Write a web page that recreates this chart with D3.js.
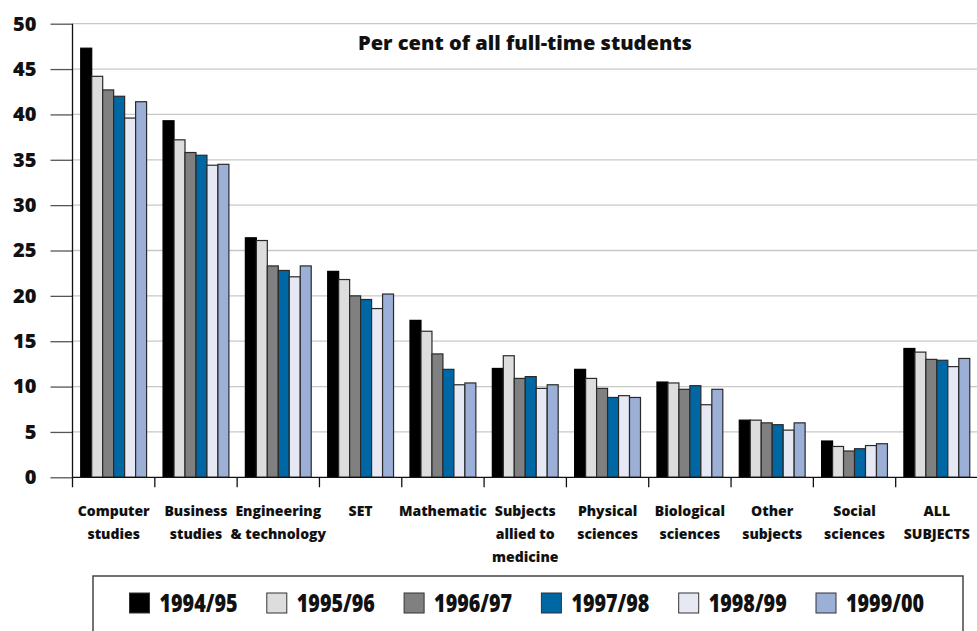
<!DOCTYPE html>
<html>
<head>
<meta charset="utf-8">
<script src="https://cdn.jsdelivr.net/npm/d3@7"></script>
<style>
  html, body { margin: 0; padding: 0; background: #fff; }
  svg { display: block; }
  text { font-family: "Open Sans", "Noto Sans", sans-serif; font-weight: 800; fill: #111; }
</style>
</head>
<body>
<svg id="chart" width="977" height="631"></svg>
<script>
const categories = [
  ["Computer", "studies"],
  ["Business", "studies"],
  ["Engineering", "& technology"],
  ["SET"],
  ["Mathematic"],
  ["Subjects", "allied to", "medicine"],
  ["Physical", "sciences"],
  ["Biological", "sciences"],
  ["Other", "subjects"],
  ["Social", "sciences"],
  ["ALL", "SUBJECTS"]
];
const seriesNames = ["1994/95", "1995/96", "1996/97", "1997/98", "1998/99", "1999/00"];
const seriesColors = ["#000000", "#dddddd", "#808080", "#0067a5", "#e6e9f3", "#9bafd7"];
const v1994 = [47.3, 39.3, 26.4, 22.7, 17.3, 12.0, 11.9, 10.5, 6.3, 4.0, 14.2];
const v1995 = [44.2, 37.2, 26.1, 21.8, 16.1, 13.4, 10.9, 10.4, 6.3, 3.4, 13.8];
const v1996 = [42.7, 35.8, 23.3, 20.0, 13.6, 10.9, 9.8, 9.7, 6.0, 2.9, 13.0];
const v1997 = [42.0, 35.5, 22.8, 19.6, 11.9, 11.1, 8.8, 10.1, 5.8, 3.15, 12.9];
const v1998 = [39.6, 34.4, 22.1, 18.6, 10.2, 9.8, 9.0, 8.0, 5.2, 3.5, 12.2];
const v1999 = [41.4, 34.5, 23.3, 20.2, 10.4, 10.2, 8.8, 9.7, 6.0, 3.7, 13.1];
const seriesValues = [v1994, v1995, v1996, v1997, v1998, v1999];
const yTicks = [0, 5, 10, 15, 20, 25, 30, 35, 40, 45, 50];
const title = "Per cent of all full-time students";

const svg = d3.select("#chart");
const mLeft = 72.5, mRight = 978, mTop = 23.7, mBottom = 477.3;

const x = d3.scaleBand().domain(d3.range(categories.length)).range([mLeft, mRight]).padding(0);
const bw = x.bandwidth();
const xs = d3.scaleBand().domain(d3.range(seriesNames.length)).range([bw * 0.1, bw * 0.9]).padding(0);
const y = d3.scaleLinear().domain([0, 50]).range([mBottom, mTop]);

// gridlines
svg.append("g").selectAll("line").data(yTicks.filter(d => d > 0)).join("line")
  .attr("x1", mLeft).attr("x2", 977).attr("y1", d => y(d)).attr("y2", d => y(d))
  .attr("stroke", "#c8c8c8").attr("stroke-width", 1.3);

// y axis
const yAxis = d3.axisLeft(y).tickValues(yTicks).tickSize(22).tickPadding(14).tickFormat(d3.format("d"));
const gy = svg.append("g").attr("transform", `translate(${mLeft},0)`).call(yAxis);
gy.select(".domain").remove();
gy.selectAll(".tick line").attr("stroke", "#555").attr("stroke-width", 1.3);
gy.selectAll(".tick text").style("font-family", "'Open Sans', sans-serif").style("font-weight", "800")
  .style("font-size", "20px").attr("fill", "#111");
svg.append("line").attr("x1", mLeft).attr("x2", mLeft).attr("y1", mTop).attr("y2", mBottom)
  .attr("stroke", "#111").attr("stroke-width", 1.3);

// bars
const groups = svg.append("g").selectAll("g").data(categories.map((c, i) => i)).join("g")
  .attr("transform", i => `translate(${x(i)},0)`);
groups.selectAll("rect").data(i => seriesValues.map((vals, s) => ({s, v: vals[i]}))).join("rect")
  .attr("x", d => xs(d.s))
  .attr("width", xs.bandwidth())
  .attr("y", d => y(d.v))
  .attr("height", d => y(0) - y(d.v))
  .attr("fill", d => seriesColors[d.s])
  .attr("stroke", d => d.s === 0 ? "#000" : "#2a2a2a")
  .attr("stroke-width", 1.2);

// x axis
svg.append("line").attr("x1", mLeft).attr("x2", 977).attr("y1", mBottom).attr("y2", mBottom)
  .attr("stroke", "#111").attr("stroke-width", 1.3);
svg.append("g").selectAll("line").data(d3.range(categories.length)).join("line")
  .attr("x1", i => x(i)).attr("x2", i => x(i)).attr("y1", mBottom).attr("y2", mBottom + 10)
  .attr("stroke", "#111").attr("stroke-width", 1.3);

// category labels
const lbl = svg.append("g").selectAll("text").data(categories.map((c, i) => ({c, i}))).join("text")
  .attr("text-anchor", "middle")
  .attr("x", d => x(d.i) + bw / 2)
  .attr("y", 516)
  .style("font-size", "14px");
lbl.selectAll("tspan").data(d => d.c.map((t, k) => ({t, k, cx: x(d.i) + bw / 2}))).join("tspan")
  .attr("x", d => d.cx).attr("dy", d => d.k === 0 ? 0 : 23).text(d => d.t);

// title
svg.append("text").attr("x", 525).attr("y", 50).attr("text-anchor", "middle")
  .style("font-size", "19px").attr("textLength", 334).attr("lengthAdjust", "spacingAndGlyphs").text(title);

// legend
svg.append("rect").attr("x", 93).attr("y", 576).attr("width", 870).attr("height", 80)
  .attr("fill", "none").attr("stroke", "#444").attr("stroke-width", 1.5);
const lx = d3.scalePoint().domain(d3.range(seriesNames.length)).range([129.5, 816]);
const li = svg.append("g").selectAll("g").data(seriesNames.map((n, s) => ({n, s}))).join("g")
  .attr("transform", d => `translate(${lx(d.s)},593)`);
li.append("rect").attr("width", 20).attr("height", 20)
  .attr("fill", d => seriesColors[d.s]).attr("stroke", "#333").attr("stroke-width", 1);
li.append("text").attr("x", 30).attr("y", 19).style("font-size", "24px")
  .attr("textLength", 78).attr("lengthAdjust", "spacingAndGlyphs").text(d => d.n);
</script>
</body>
</html>
